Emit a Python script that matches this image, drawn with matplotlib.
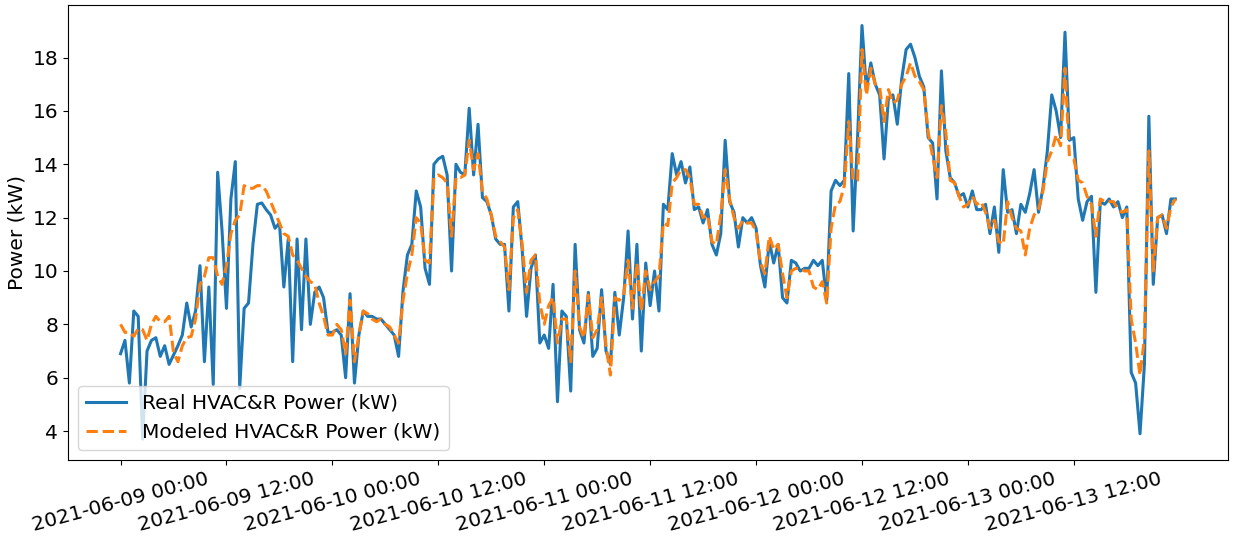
import numpy as np
import pandas as pd
import matplotlib
matplotlib.use('Agg')
import matplotlib.pyplot as plt
import matplotlib.dates as mdates

# 30-minute samples, 2021-06-09 00:00 -> 2021-06-13 23:30
start = '2021-06-09 00:00'
freq = '30min'

real_kw = [
    6.9, 7.4, 5.8, 8.5, 8.3, 3.7, 7.0, 7.4, 7.5, 6.8, 7.2, 6.5, 6.85, 7.2, 7.6, 8.8, 7.9, 8.5, 10.2, 6.6, 9.4, 5.75, 13.7, 11.5,
    8.6, 12.7, 14.1, 5.6, 8.6, 8.8, 11.0, 12.5, 12.55, 12.3, 12.1, 11.6, 11.8, 9.4, 11.2, 6.6, 11.2, 7.8, 11.2, 8.0, 9.2, 9.4, 9.0, 7.7,
    7.7, 7.8, 7.6, 6.0, 9.15, 5.8, 7.6, 8.5, 8.3, 8.3, 8.2, 8.2, 8.0, 7.8, 7.6, 6.8, 9.25, 10.6, 11.0, 13.0, 12.4, 10.1, 9.5, 14.0,
    14.2, 14.3, 13.6, 10.0, 14.0, 13.7, 13.6, 16.1, 13.6, 15.5, 12.75, 12.6, 12.1, 11.2, 11.0, 11.0, 8.5, 12.4, 12.6, 10.8, 8.3, 10.1, 10.6, 7.3,
    7.6, 7.1, 9.5, 5.1, 8.5, 8.3, 5.5, 11.0, 7.8, 7.3, 9.2, 6.8, 7.1, 9.3, 7.0, 6.5, 9.2, 7.6, 9.0, 11.5, 8.2, 11.0, 7.0, 10.3,
    8.7, 10.0, 8.5, 12.5, 12.3, 14.4, 13.6, 14.1, 13.3, 13.9, 12.3, 12.4, 11.8, 12.3, 11.0, 10.6, 11.4, 14.9, 12.6, 12.2, 10.9, 12.0, 11.8, 12.0,
    11.6, 10.2, 9.4, 11.1, 10.3, 11.0, 9.0, 8.8, 10.4, 10.3, 10.0, 10.1, 10.1, 10.4, 10.2, 10.4, 8.9, 13.0, 13.4, 13.2, 13.4, 17.4, 11.5, 15.0,
    19.2, 16.8, 17.8, 17.0, 16.6, 14.2, 16.5, 16.6, 15.5, 17.2, 18.3, 18.5, 18.0, 17.3, 16.9, 15.0, 14.8, 12.7, 17.5, 14.5, 13.5, 13.3, 12.8, 12.9,
    12.4, 13.0, 12.3, 12.3, 12.5, 11.4, 12.4, 10.7, 13.8, 12.2, 12.3, 11.4, 12.5, 12.2, 12.9, 13.8, 12.2, 13.1, 14.5, 16.6, 16.0, 15.0, 18.95, 14.9,
    15.0, 12.7, 11.9, 12.6, 12.8, 9.2, 12.6, 12.5, 12.7, 12.4, 12.6, 12.0, 12.4, 6.2, 5.8, 3.9, 6.5, 15.8, 9.5, 12.0, 12.1, 11.4, 12.7, 12.7,
]

modeled_kw = [
    8.0, 7.7, 7.7, 7.55, 7.85, 7.8, 7.4, 8.0, 8.3, 8.1, 8.1, 8.3, 6.95, 6.6, 7.2, 7.5, 7.55, 8.2, 9.5, 9.8, 10.5, 10.5, 9.8, 9.5,
    10.2, 11.4, 11.9, 12.1, 13.2, 13.1, 13.1, 13.2, 13.2, 13.0, 12.6, 12.2, 11.8, 11.4, 11.3, 10.6, 10.4, 10.1, 9.8, 9.6, 9.5, 8.8, 8.3, 7.6,
    7.6, 8.0, 7.8, 6.9, 8.9, 6.6, 7.6, 8.5, 8.4, 8.2, 8.1, 8.2, 8.0, 7.9, 7.6, 7.3, 8.9, 9.9, 10.6, 12.0, 11.8, 10.4, 10.3, 13.5,
    13.6, 13.5, 13.3, 11.3, 13.5, 13.5, 13.6, 14.9, 13.8, 14.4, 13.0, 12.7, 12.1, 11.3, 11.1, 10.9, 9.3, 12.0, 12.3, 11.0, 9.2, 10.4, 10.6, 8.8,
    8.0, 8.7, 9.0, 7.3, 8.2, 8.2, 6.6, 10.0, 7.9, 7.5, 9.1, 7.5, 7.8, 9.0, 7.2, 6.1, 9.0, 8.9, 9.1, 10.4, 8.6, 10.3, 8.5, 10.0,
    9.3, 9.6, 9.8, 11.8, 11.7, 13.3, 13.5, 13.8, 13.8, 13.5, 12.5, 12.5, 12.0, 12.1, 11.1, 11.0, 12.1, 13.8, 12.7, 12.0, 11.6, 11.9, 11.8, 11.8,
    11.5, 10.3, 9.9, 11.3, 10.8, 11.0, 9.9, 9.0, 10.0, 10.1, 10.1, 10.0, 10.0, 9.4, 9.3, 9.6, 8.8, 11.6, 12.5, 12.6, 13.2, 15.6, 13.4, 13.4,
    18.3, 16.6, 17.6, 17.0, 16.9, 15.6, 16.8, 16.3, 16.4, 17.0, 17.3, 17.8, 17.3, 17.1, 16.8, 15.2, 14.3, 13.5, 16.2, 15.2, 13.4, 13.3, 12.8, 12.4,
    12.5, 12.8, 12.5, 12.6, 12.2, 11.6, 11.9, 11.1, 11.0, 12.6, 12.0, 11.6, 11.5, 10.6, 11.6, 12.1, 12.3, 13.0, 14.1, 14.5, 15.1, 14.7, 17.6, 14.3,
    14.2, 13.4, 13.3, 12.8, 12.5, 11.3, 12.7, 12.6, 12.6, 12.6, 12.3, 12.2, 12.3, 8.2, 7.3, 6.1, 7.5, 14.5, 10.0, 12.0, 12.1, 11.6, 12.4, 12.7,
]

times = pd.date_range(start, periods=len(real_kw), freq=freq)
tick_times = pd.date_range('2021-06-09 00:00', '2021-06-13 12:00', freq='12h')

plt.rcParams['font.size'] = 14.5

fig, ax = plt.subplots(figsize=(12.33, 5.39), dpi=100)
fig.subplots_adjust(left=0.055, right=0.996, top=0.991, bottom=0.147)

ax.plot(times, real_kw, color='#1f77b4', lw=2.2, label='Real HVAC&R Power (kW)')
ax.plot(times, modeled_kw, color='#ff7f0e', lw=2.2, ls='--', label='Modeled HVAC&R Power (kW)')

ax.set_ylabel('Power (kW)')
ax.set_xticks(tick_times)
ax.xaxis.set_major_formatter(mdates.DateFormatter('%Y-%m-%d %H:%M'))
plt.setp(ax.get_xticklabels(), rotation=15)
ax.legend(loc='lower left')

plt.savefig('out.png')
